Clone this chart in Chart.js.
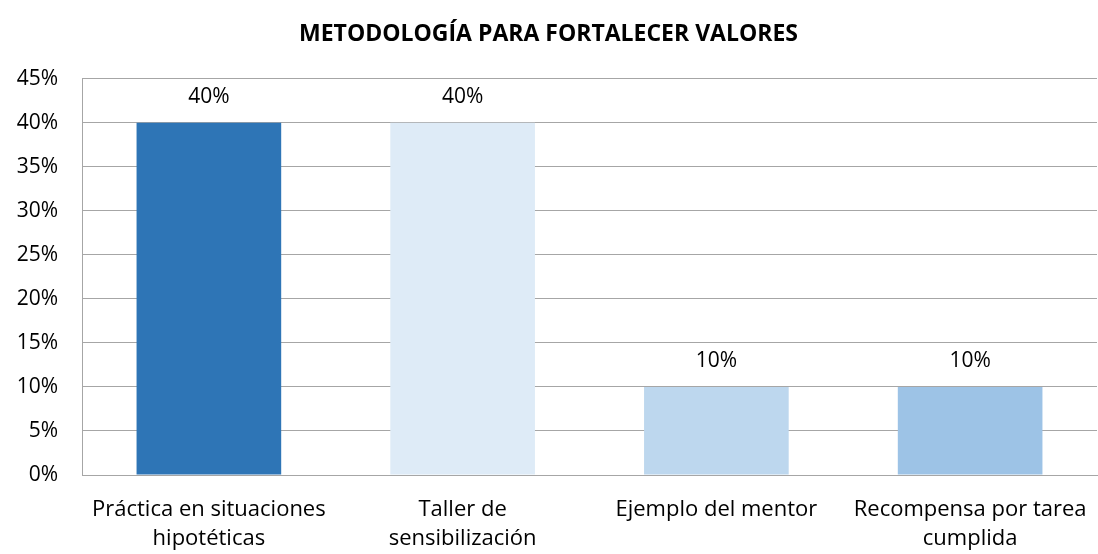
<!DOCTYPE html>
<html><head><meta charset="utf-8">
<script src="https://cdn.jsdelivr.net/npm/chart.js@4/dist/chart.umd.min.js"></script>
<style>html,body{margin:0;padding:0;background:#fff}#wrap{width:1098px;height:554px}</style>
</head><body><div id="wrap"><canvas id="c" width="1098" height="554"></canvas></div>
<script>
const categories = [["Práctica en situaciones","hipotéticas"],["Taller de","sensibilización"],"Ejemplo del mentor",["Recompensa por tarea","cumplida"]];
const values = [0.40, 0.40, 0.10, 0.10];
const barColors = ["#2E75B6", "#DEEBF7", "#BDD7EE", "#9DC3E6"];
const yTicks = [0,0.05,0.10,0.15,0.20,0.25,0.30,0.35,0.40,0.45];
const titleText = "METODOLOGÍA PARA FORTALECER VALORES";
const FONT = "'Open Sans', 'Noto Sans', sans-serif";

const labelPlugin = {
  id: 'vlabels',
  afterDatasetsDraw(chart) {
    const ctx = chart.ctx;
    const meta = chart.getDatasetMeta(0);
    ctx.save();
    ctx.font = "21px " + FONT;
    ctx.fillStyle = "#000";
    ctx.textAlign = "center";
    ctx.textBaseline = "middle";
    meta.data.forEach((bar, i) => {
      ctx.fillText(Math.round(values[i]*100) + "%", bar.x, bar.y - 26);
    });
    ctx.restore();
  }
};

new Chart(document.getElementById('c'), {
  type: 'bar',
  data: { labels: categories, datasets: [{ data: values, backgroundColor: barColors, borderWidth: 0, categoryPercentage: 1, barPercentage: 0.57 }] },
  options: {
    responsive: false, animation: false,
    layout: { padding: { left: 0, right: 1, top: 0, bottom: 0 } },
    plugins: {
      legend: { display: false }, tooltip: { enabled: false },
      title: { display: true, text: titleText, color: "#000", font: { family: FONT, size: 23, weight: 'bold', lineHeight: 1.2 }, padding: { top: 21, bottom: 30 } }
    },
    scales: {
      x: {
        afterFit(s) { s.height = 79; s.paddingLeft = 0; s.paddingRight = 0; },
        grid: { display: false, drawTicks: false },
        border: { display: true, color: "#A6A6A6", width: 1 },
        ticks: { color: "#000", font: { family: FONT, size: 22, lineHeight: 1.32 }, padding: 20, maxRotation: 0, autoSkip: false }
      },
      y: {
        min: 0, max: 0.45,
        afterFit(s) { s.width = 82; s.paddingTop = 0; s.paddingBottom = 0; },
        afterBuildTicks(axis) { axis.ticks = yTicks.map(v => ({ value: v })); },
        grid: { color: "#A6A6A6", drawTicks: false },
        border: { display: true, color: "#A6A6A6", width: 1 },
        ticks: { color: "#000", font: { family: FONT, size: 21 }, padding: 24, callback: v => Math.round(v*100) + "%" }
      }
    }
  },
  plugins: [labelPlugin]
});
</script></body></html>
